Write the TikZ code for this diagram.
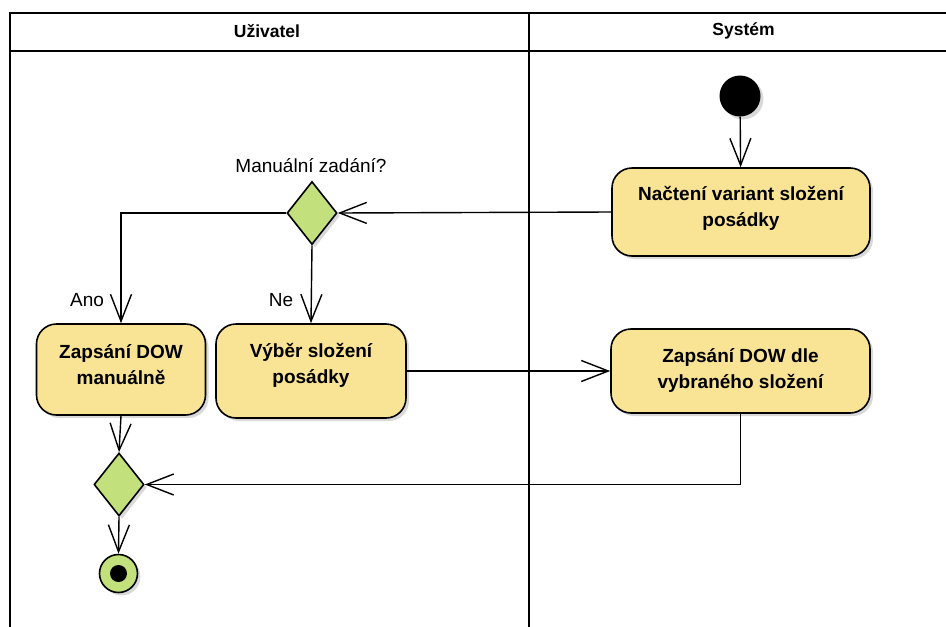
\documentclass[tikz,border=0pt]{standalone}
\usepackage{fontspec}
\setmainfont{Liberation Sans}
\usetikzlibrary{arrows.meta,shapes.geometric,shadows}
\definecolor{actfill}{HTML}{F9E394}
\definecolor{decfill}{HTML}{C2E17C}
\definecolor{shade}{HTML}{D9D9D9}
\tikzset{
  lane/.style={line width=1.6pt,draw=black},
  sh/.style={drop shadow={shadow xshift=3pt,shadow yshift=-3pt,fill=shade,opacity=1}},
  action/.style={draw=black,line width=1.6pt,fill=actfill,rounded corners=20pt,
    minimum width=#1,minimum height=88pt,inner sep=0pt,sh},
  acttext/.style={align=center,inner sep=0pt,font=\fontsize{19}{26}\selectfont\bfseries},
  decision/.style={draw=black,line width=1.6pt,fill=decfill,diamond,aspect=0.79,
    minimum width=50pt,minimum height=63pt,inner sep=0pt,sh},
  flow/.style={line width=1.4pt,-{Straight Barb[length=27pt,width=21pt]}},
  plain/.style={line width=1.4pt},
  lbl/.style={font=\fontsize{19}{22}\selectfont},
  head/.style={font=\fontsize{17.5}{20}\selectfont\bfseries},
}
\begin{document}
\begin{tikzpicture}[x=1pt,y=-1pt]
\useasboundingbox (0,0) rectangle (946,627);
% swimlanes
\draw[lane] (10,627) -- (10,13) -- (946,13);
\draw[lane] (10,51) -- (946,51);
\draw[lane] (529,13) -- (529,627);
\node[head] (laneU) at (267,31) {Uživatel};
\node[head] (laneS) at (743.5,31) {Systém};

% start
\node[circle,fill=black,minimum size=41pt,inner sep=0pt,sh] (start) at (740,96) {};
% actions
\node[action=258pt] (load) at (741,212) {};
\node[acttext] (loadT) at ([yshift=4pt]load.center) {Načtení variant složení\\posádky};
\node[decision] (dec) at (312,213) {};
\node[lbl,anchor=south] (declbl) at (311,176) {Manuální zadání?};
\node[action=169pt,minimum height=91pt] (manual) at (121,369.5) {};
\node[acttext] (manualT) at ([yshift=4.5pt]manual.center) {Zapsání DOW\\manuálně};
\node[action=190pt,minimum height=94pt] (select) at (311,371) {};
\node[acttext] (selectT) at ([yshift=6pt]select.center) {Výběr složení\\posádky};
\node[action=259pt,minimum height=84pt] (write) at (740.5,371) {};
\node[acttext] (writeT) at ([yshift=1pt]write.center) {Zapsání DOW dle\\vybraného složení};
\node[decision] (merge) at (119,484.5) {};
% end
\node[circle,draw=black,line width=1.6pt,fill=decfill,minimum size=38pt,inner sep=0pt,sh] (end) at (118.5,573.5) {};
\node[circle,fill=black,minimum size=17pt,inner sep=0pt] (endcore) at (end.center) {};

% flows
\draw[flow] (start) -- (load);
\draw[flow] (load.west) -- (dec.east);
\draw[flow] (dec.west) -| (manual.north);
\draw[flow] (dec.south) -- (select.north);
\node[lbl] (ano) at (87,300) {Ano};
\node[lbl] (ne) at (281,300) {Ne};
\draw[flow] (select.east) -- (write.west);
\draw[flow] (manual.south) -- (merge.north);
\coordinate (bend) at (write.south |- merge.east);
\draw[plain] (write.south) -- (bend);
\draw[flow] (bend) -- (merge.east);
\draw[flow] (merge.south) -- (end.north);
\end{tikzpicture}
\end{document}
